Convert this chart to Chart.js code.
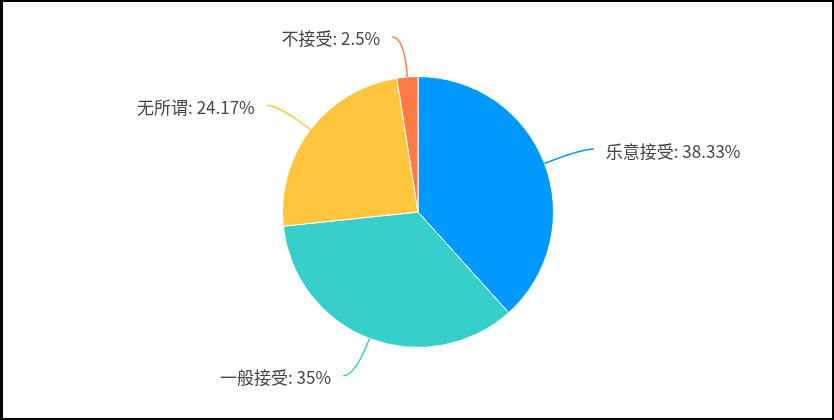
<!DOCTYPE html>
<html lang="zh">
<head>
    <meta charset="UTF-8">
    <title>接受程度</title>
    <script src="https://cdn.jsdelivr.net/npm/chart.js"></script>
    <style>
        html, body {
            margin: 0;
            padding: 0;
            background: #fff;
        }
        .frame {
            position: relative;
            width: 834px;
            height: 420px;
        }
        .frame canvas {
            position: absolute;
            left: 0;
            top: 0;
        }
        .edge {
            position: absolute;
            left: 0;
            top: 0;
            width: 834px;
            height: 420px;
            box-sizing: border-box;
            border: 2px solid #000;
            border-left-width: 3px;
            pointer-events: none;
        }
    </style>
</head>
<body>
    <div class="frame">
        <canvas id="pieChart" width="834" height="420"></canvas>
        <div class="edge"></div>
    </div>

    <script>
        const labels = ['乐意接受', '一般接受', '无所谓', '不接受'];
        const values = [38.33, 35, 24.17, 2.5];
        const colors = ['#0099ff', '#36cfc9', '#ffc53d', '#ff7a45'];

        // leader lines: radial part, then a short horizontal hook
        const labelLines = {
            id: 'labelLines',
            afterDatasetsDraw(chart) {
                const ctx = chart.ctx;
                const meta = chart.getDatasetMeta(0);
                const len1 = 40, len2 = 12, gap = 12;
                ctx.save();
                ctx.font = '17px "Noto Sans CJK SC", "Noto Sans", sans-serif';
                ctx.textBaseline = 'middle';
                meta.data.forEach((arc, i) => {
                    const mid = (arc.startAngle + arc.endAngle) / 2;
                    const dx = Math.cos(mid), dy = Math.sin(mid);
                    const r = arc.outerRadius;
                    const sx = arc.x + dx * r, sy = arc.y + dy * r;
                    const ex = arc.x + dx * (r + len1), ey = arc.y + dy * (r + len1);
                    const side = dx >= 0 ? 1 : -1;
                    const tx = ex + side * len2;

                    ctx.strokeStyle = colors[i];
                    ctx.lineWidth = 1.5;
                    ctx.beginPath();
                    ctx.moveTo(sx, sy);
                    ctx.quadraticCurveTo(ex, ey, tx, ey);
                    ctx.stroke();

                    ctx.fillStyle = '#444';
                    ctx.textAlign = side > 0 ? 'left' : 'right';
                    ctx.fillText(labels[i] + ': ' + values[i] + '%', tx + side * gap, ey + 2);
                });
                ctx.restore();
            }
        };

        new Chart(document.getElementById('pieChart'), {
            type: 'pie',
            data: {
                labels: labels,
                datasets: [{
                    data: values,
                    backgroundColor: colors,
                    borderColor: '#fff',
                    borderWidth: 1
                }]
            },
            options: {
                responsive: false,
                animation: false,
                layout: {
                    padding: { top: 76, bottom: 72, left: 2, right: 0 }
                },
                plugins: {
                    legend: { display: false },
                    tooltip: { enabled: false }
                }
            },
            plugins: [labelLines]
        });
    </script>
</body>
</html>
